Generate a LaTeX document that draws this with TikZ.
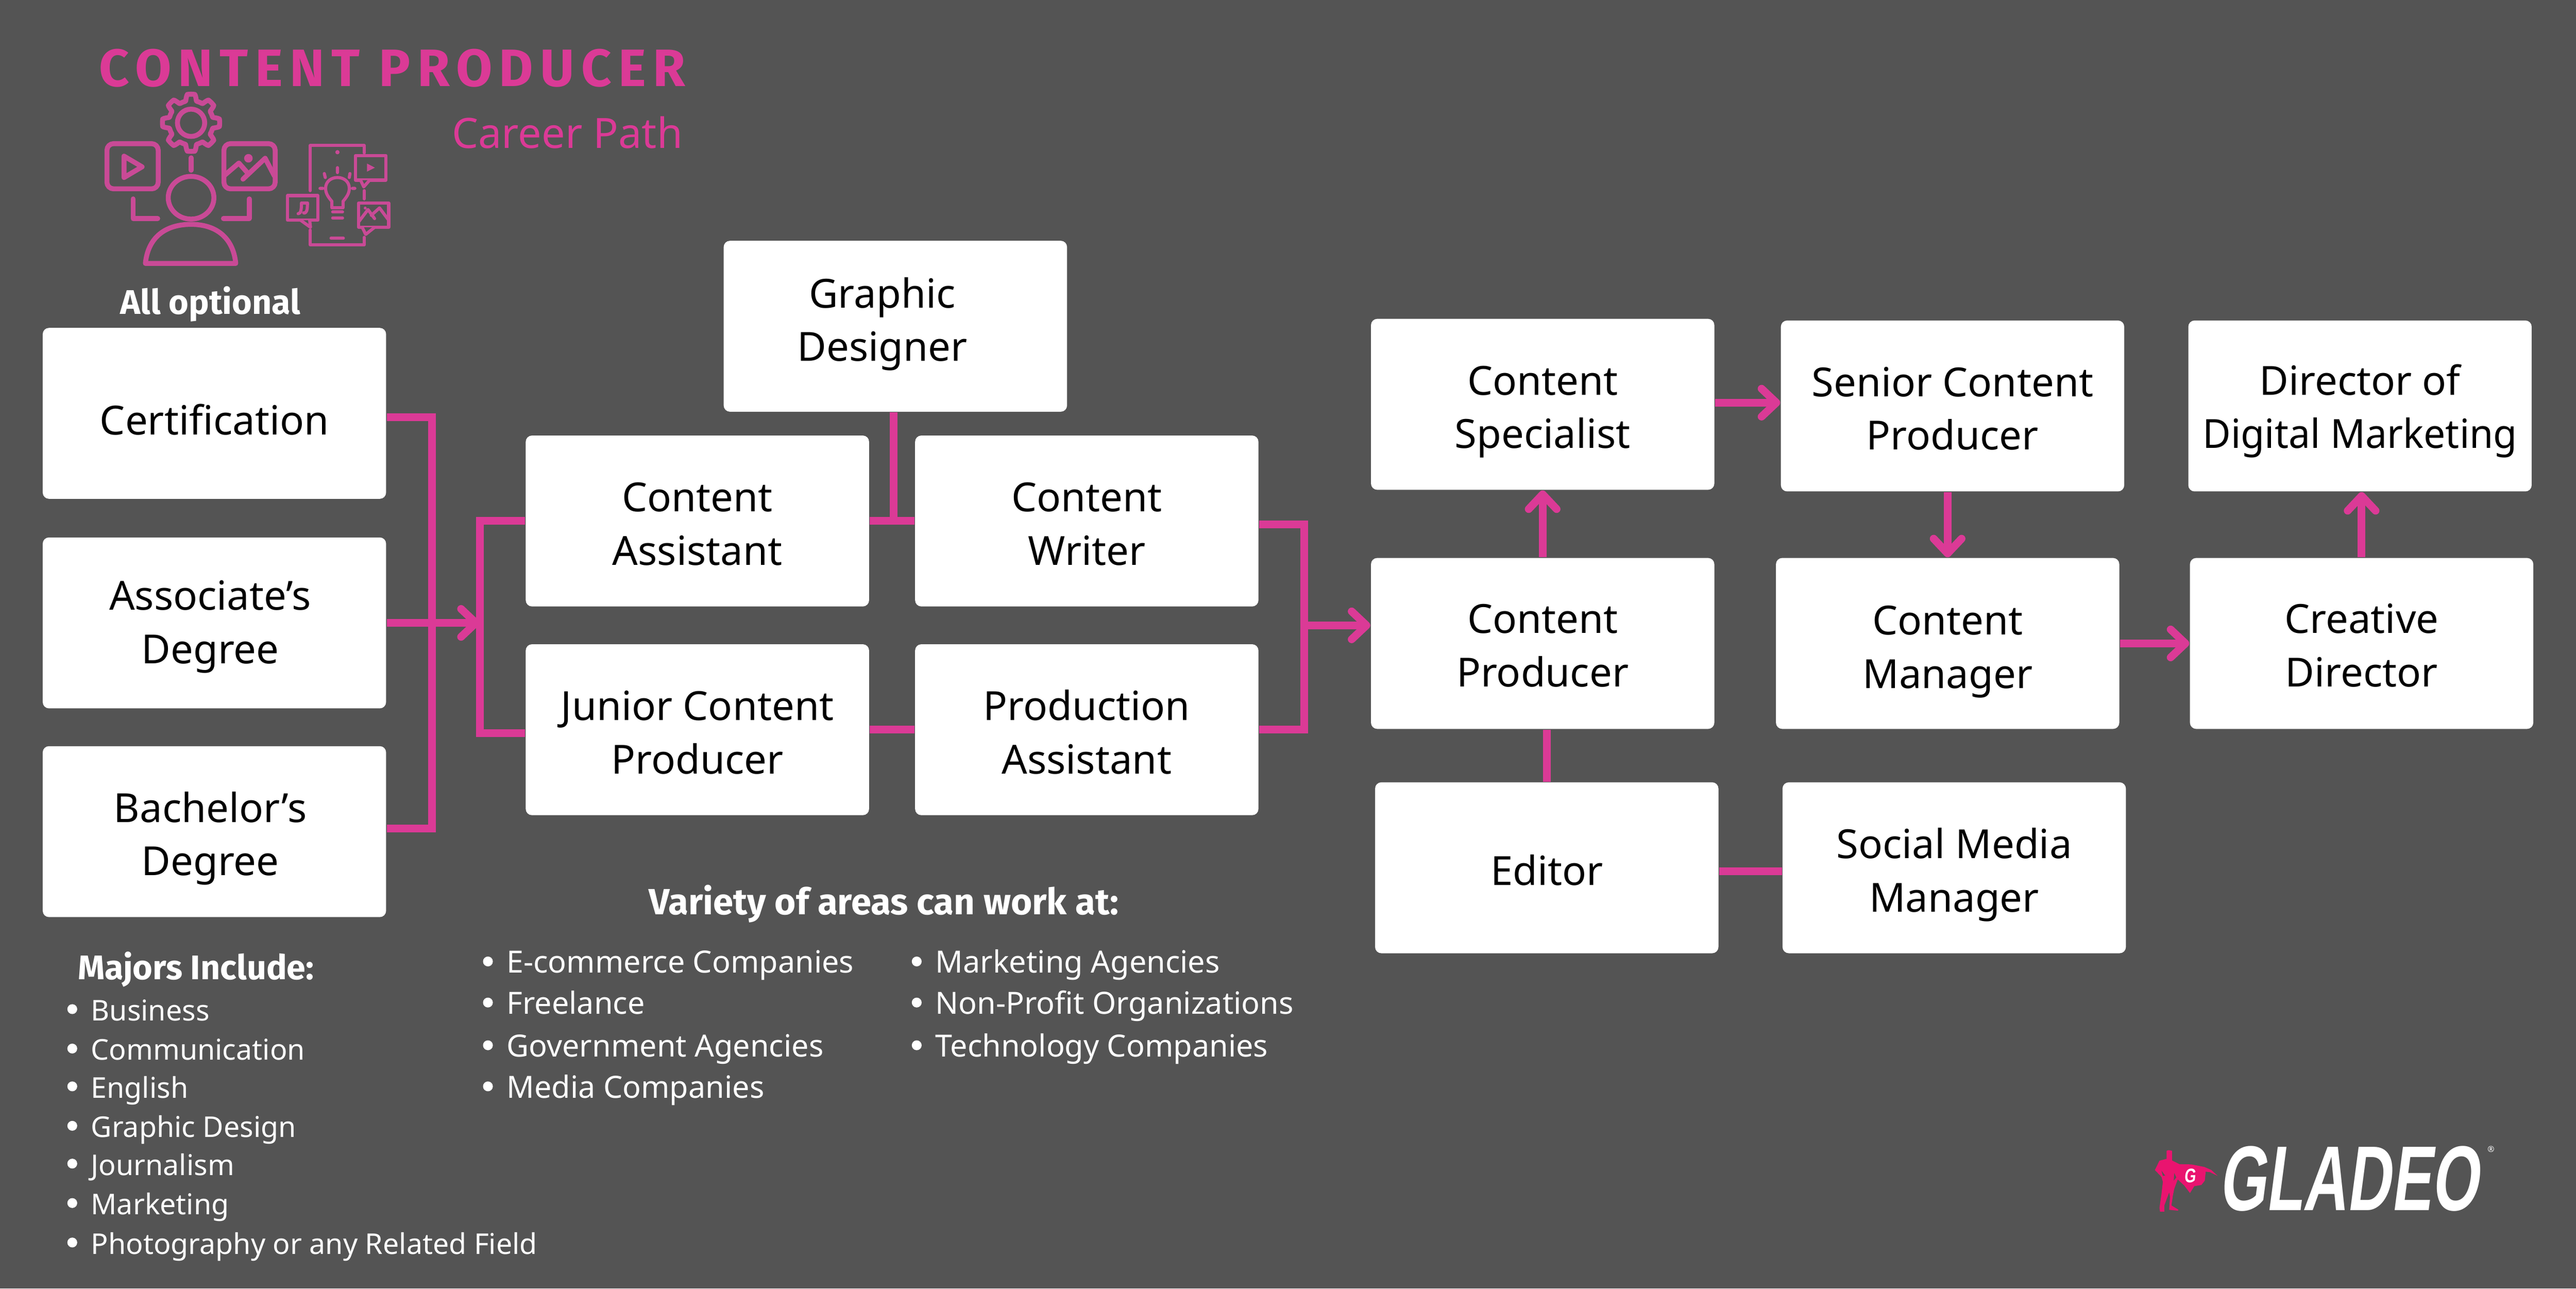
\documentclass[tikz,border=0pt]{standalone}
\usepackage{fontspec}
\setmainfont{Noto Sans}
\newfontfamily\hfont{Fira Sans}
\newfontfamily\logofont{Liberation Sans}
\usetikzlibrary{arrows.meta}
\definecolor{bgc}{HTML}{545454}
\definecolor{pk}{HTML}{DB3A96}
\definecolor{ic}{HTML}{C94A96}
\definecolor{hero}{HTML}{E9146F}
\tikzset{
  box/.style={fill=white,rounded corners=1.9pt,minimum width=104.5pt,minimum height=52pt,inner sep=0pt,align=center,text=black,font=\fontsize{12.2pt}{16.25pt}\selectfont},
  link/.style={draw=pk,line width=2.35pt},
  arr/.style={link,-{Straight Barb[length=4.5pt,width=8.5pt,round]}},
  thick icon/.style={draw=ic,line width=1.5pt,line cap=round,line join=round},
  thin icon/.style={draw=ic,line width=.95pt,line cap=round,line join=round},
  item/.style={anchor=base west,text=white,inner sep=0pt,font=\fontsize{9.3pt}{11pt}\selectfont},
  major/.style={item,font=\fontsize{8.7pt}{11pt}\selectfont},
  head/.style={text=white,inner sep=0pt,font=\fontsize{10.4pt}{12pt}\hfont\bfseries\selectfont},
}
\newcommand{\listitem}[6][item]{\fill[white] (#3,#5) circle (3);\node[#1] (#2) at (#4,#5+7) {#6};}
% text of a box, moved by (dx,dy) picture pixels from the box centre
\newcommand{\tx}[3]{\makebox[0pt]{\hspace*{#1pt}\raisebox{\dimexpr -#2pt-1.5pt-\fontdimen22\textfont2\relax}[0pt][0pt]{\begin{tabular}{@{}c@{}}#3\end{tabular}}}}
\begin{document}
\begin{tikzpicture}[x=.5pt,y=-.5pt]
\useasboundingbox (0,0) rectangle (1568,784);
\fill[bgc] (0,0) rectangle (1568,784);

% titles
\node[anchor=base east,inner sep=0pt,text=pk,font=\fontsize{16pt}{18pt}\hfont\bfseries\selectfont\addfontfeature{LetterSpace=13}] (title) at (417.5,52.5) {CONTENT PRODUCER};
\node[anchor=base east,inner sep=0pt,text=pk,font=\fontsize{12.7pt}{15pt}\selectfont] (sub) at (416,90) {Career Path};
\node[head] (opt) at (128,185) {All optional};

% boxes (dx and dy in points: half a reference pixel of the 1568 grid)
\node[box] (cert) at (130.5,251.5) {\tx{0}{1.75}{Certification}};
\node[box] (assoc) at (130.5,379) {\tx{-2.5}{-0.5}{Associate’s\\Degree}};
\node[box] (bach) at (130.5,506) {\tx{-2.5}{0.5}{Bachelor’s\\Degree}};
\node[box] (gd) at (545,198.5) {\tx{-8}{-2.25}{Graphic\\Designer}};
\node[box] (ca) at (424.5,317) {\tx{0}{0.5}{Content\\Assistant}};
\node[box] (cw) at (661.5,317) {\tx{0}{0.5}{Content\\Writer}};
\node[box] (jc) at (424.5,444) {\tx{0}{0.5}{Junior Content\\Producer}};
\node[box] (pa) at (661.5,444) {\tx{0}{0.5}{Production\\Assistant}};
\node[box] (cs) at (939,246) {\tx{0}{0.5}{Content\\Specialist}};
\node[box] (sc) at (1188.5,247) {\tx{0}{0.5}{Senior Content\\Producer}};
\node[box] (dd) at (1436.5,247) {\tx{0}{0}{Director of\\\scalebox{.965}[1]{Digital Marketing}}};
\node[box] (cp) at (939,391.5) {\tx{0}{0.25}{Content\\Producer}};
\node[box] (cm) at (1185.5,391.5) {\tx{0}{0.75}{Content\\Manager}};
\node[box] (cd) at (1437.5,391.5) {\tx{0}{0.25}{Creative\\Director}};
\node[box] (ed) at (941.5,528) {\tx{0}{0.5}{Editor}};
\node[box] (sm) at (1189.5,528) {\tx{0}{0.5}{Social Media\\Manager}};

\coordinate (j1) at (263,254);
\coordinate (j2) at (263,504);
\coordinate (j3) at (292,317);
\coordinate (j4) at (292,446);
\coordinate (j5) at (292,379);
\coordinate (j6) at (794,319);
\coordinate (j7) at (794,444);
\coordinate (j8) at (794,380.5);
\coordinate (j9) at (544,317);
\coordinate (j10) at (1064,245);
\coordinate (j11) at (1066,530);

\draw[link] (cert.east |- j1) -- (j1) -- (j2) -- (bach.east |- j2);
\draw[arr] (assoc.east) -- (j5);
\draw[link] (ca.west |- j3) -- (j3) -- (j4) -- (jc.west |- j4);
\draw[link] (ca.east |- j9) -- (cw.west |- j9);
\draw[link] (gd.south -| j9) -- (j9);
\draw[link] (jc.east) -- (pa.west);
\draw[link] (cw.east |- j6) -- (j6) -- (j7) -- (pa.east |- j7);
\draw[arr] (j8) -- (cp.west |- j8);
\draw[arr] (cp.north) -- (cs.south);
\draw[arr] (cs.east |- j10) -- (sc.west |- j10);
\draw[arr] (sc.south -| cm.north) -- (cm.north);
\draw[arr] (cm.east) -- (cd.west);
\draw[arr] (cd.north) -- (cd.north |- dd.south);
\draw[link] (ed.north) -- (ed.north |- cp.south);
\draw[link] (ed.east |- j11) -- (sm.west |- j11);

% person icon
\draw[thick icon] plot[samples=241,domain=0:360,variable=\t] ({116.3+(13.5+3.9*min(1,max(0,(14-abs(mod(\t+22.5,45)-22.5))/6)))*cos(\t)},{74.7+(13.5+3.9*min(1,max(0,(14-abs(mod(\t+22.5,45)-22.5))/6)))*sin(\t)});
\draw[thick icon] (116.3,74.7) circle (8.3);
\draw[thick icon,rounded corners=2pt] (65.1,87.4) rectangle (96.3,114.9);
\draw[thick icon,rounded corners=2pt] (136.3,87.4) rectangle (167.5,114.9);
\draw[thick icon] (75.5,95) -- (86.5,101.5) -- (75.5,108) -- cycle;
\draw[thick icon] (136.3,107) -- (145.4,99.2) -- (150.5,105) (147.9,109) -- (161.4,96.3) -- (167,107);
\fill[ic] (151.2,96.3) circle (2.6);
\draw[thick icon] (116.3,96) -- (116.3,103.6);
\draw[thick icon] (116.3,120.3) ellipse [x radius=13.9,y radius=13];
\draw[thick icon] (88.5,160.3) .. controls (90,145) and (100,136.5) .. (116.3,136.5) .. controls (132,136.5) and (142,145) .. (143.5,160.3) -- cycle;
\draw[thick icon] (81,121) -- (81,133) -- (96,133);
\draw[thick icon] (151.7,121) -- (151.7,133) -- (136,133);

% phone icon
\draw[thin icon] (188.8,116) -- (188.8,88.5) -- (221.7,88.5) -- (221.7,93);
\draw[thin icon] (188.8,140) -- (188.8,149) -- (221.7,149) -- (221.7,144.4);
\draw[thin icon] (221.7,116) -- (221.7,121);
\fill[ic] (205.4,92.6) circle (1.3);
\draw[thin icon] (201.5,144.9) -- (209,144.9);
\draw[thin icon] (202,126.4) -- (202,122.5) .. controls (199,119) and (198.2,117) .. (198.2,114.5) .. controls (198.2,110.5) and (201.5,108) .. (205.4,108) .. controls (209.3,108) and (212.6,110.5) .. (212.6,114.5) .. controls (212.6,117) and (211.8,119) .. (208.8,122.5) -- (208.8,126.4) -- cycle;
\draw[thin icon] (202.5,129) -- (208.5,129) (202.5,132.6) -- (208.5,132.6);
\draw[thin icon] (205.4,102) -- (205.4,105) (197.4,105.6) -- (198,108) (213,105.6) -- (212.6,108) (194.8,114.6) -- (196.5,114.6) (214.5,114.6) -- (216,114.6);
% bubbles
\draw[thin icon,fill=bgc] (216.3,94.6) rectangle (234.8,109.6);
\draw[thin icon,fill=bgc] (219.5,109.6) -- (221.4,113.7) -- (225,109.6);
\fill[ic] (223.4,99.5) -- (228.2,102) -- (223.4,104.4) -- cycle;
\draw[thin icon,fill=bgc] (175,119) rectangle (193.5,134);
\draw[thin icon,fill=bgc] (183,134) -- (189,138.3) -- (188.5,134);
\draw[thin icon] (181.5,130) .. controls (183,130) and (183.5,128) .. (183.5,123.5) -- (187.2,123.5) -- (187,127) .. controls (186.8,129) and (185.5,130) .. (184.8,129.5);
\draw[thin icon,fill=bgc] (218.3,123.5) rectangle (236.6,138.3);
\draw[thin icon,fill=bgc] (220.5,138.3) -- (222.6,142.6) -- (228,138.3);
\draw[thin icon] (218.3,135) -- (224,127.5) -- (228,133) (226,131) -- (231,126.5) -- (236.6,134);
\fill[ic] (222.3,126.6) circle (.9);

% lists
\node[head,anchor=base west] (maj) at (47,596) {Majors Include:};
\listitem[major]{m1}{44}{55}{614}{Business}
\listitem[major]{m2}{44}{55}{638}{Communication}
\listitem[major]{m3}{44}{55}{661}{English}
\listitem[major]{m4}{44}{55}{685}{Graphic Design}
\listitem[major]{m5}{44}{55}{708}{Journalism}
\listitem[major]{m6}{44}{55}{732}{Marketing}
\listitem[major]{m7}{44}{55}{756}{Photography or any Related Field}
\node[head,font=\fontsize{11.1pt}{12pt}\hfont\bfseries\selectfont] (var) at (538,550) {Variety of areas can work at:};
\listitem{a1}{297}{308}{585}{E-commerce Companies}
\listitem{a2}{297}{308}{610}{Freelance}
\listitem{a3}{297}{308}{636}{Government Agencies}
\listitem{a4}{297}{308}{661}{Media Companies}
\listitem{b1}{558}{569}{585}{Marketing Agencies}
\listitem{b2}{558}{569}{610}{Non-Profit Organizations}
\listitem{b3}{558}{569}{636}{Technology Companies}

% logo
\begin{scope}[shift={(1281.8,669.2)},x=.0868pt,y=-.0378pt]
\fill[hero] (213,410) -- (220,405) -- (232,410) -- (232,488) -- (258,518) -- (300,520) -- (345,540) -- (370,565) -- (392,612) -- (365,582) -- (350,578) -- (347,650) -- (335,685) -- (310,695) -- (295,750) -- (275,690) -- (252,640) -- (240,715) -- (235,770) -- (230,850) -- (255,885) -- (252,892) -- (222,885) -- (225,780) -- (222,745) -- (205,850) -- (205,900) -- (190,900) -- (188,870) -- (195,760) -- (200,660) -- (195,620) -- (172,565) -- (188,490) -- (213,475) -- cycle;
\fill[bgc] (195,570) -- (208,610) -- (200,612) -- cycle (240,590) -- (247,625) -- (238,650) -- cycle;
\end{scope}
\node[inner sep=0pt,text=white,xscale=.75,xslant=.15,font=\fontsize{6pt}{7pt}\logofont\bfseries\selectfont] (logog) at (1333.5,715.3) {G};
\node[inner sep=0pt,text=white,xscale=.66,xslant=.2,font=\fontsize{28pt}{30pt}\logofont\bfseries\selectfont] (logo) at (1432,717.2) {GLADEO};
\node[inner sep=0pt,text=white,font=\fontsize{2.5pt}{3pt}\selectfont] (reg) at (1516.2,699.3) {®};
\end{tikzpicture}
\end{document}
